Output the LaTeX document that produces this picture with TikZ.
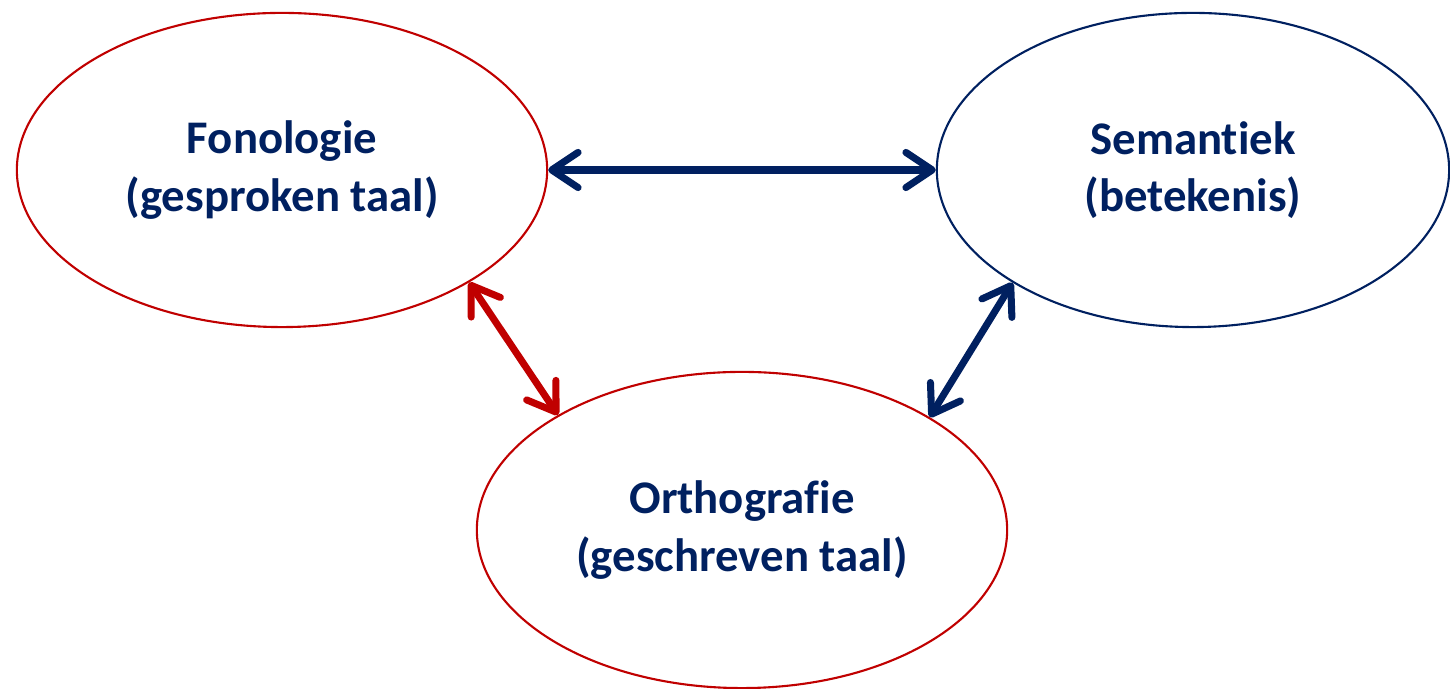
\documentclass[tikz,border=0pt]{standalone}
\usepackage{fontspec}
\setmainfont[Ligatures=NoCommon]{Carlito}
\usetikzlibrary{shapes.geometric,arrows.meta}
\definecolor{navy}{HTML}{002060}
\definecolor{darkred}{HTML}{C00000}

\begin{document}
\begin{tikzpicture}[x=.01cm,y=-.01cm,
	bol/.style={ellipse,draw,line width=.6pt,inner sep=0pt,minimum width=5.3cm,minimum height=3.14cm,align=center,text=navy,font=\fontsize{13.3}{16.4}\selectfont\bfseries},
	pijl/.style={line width=2pt,>={Straight Barb[length=7.5pt,width=10pt,round]},<->}]
	\useasboundingbox (0,0) rectangle (1450,689);
	% de drie taalaspecten
	\node[bol,draw=darkred] (fon) at (282,170){Fonologie\\(gesproken taal)};
	\node[bol,draw=navy,minimum width=5.12cm] (sem) at (1193,170){Semantiek\\(betekenis)};
	\node[bol,draw=darkred,minimum height=3.16cm] (orth) at (742,530){Orthografie\\(geschreven taal)};
	
	\draw[pijl,navy] (fon.east)--(sem.west);
	\draw[pijl,darkred] (fon.-31)--(orth.148);
	\draw[pijl,navy] (sem.-148)--(orth.31);
\end{tikzpicture}
\end{document}
